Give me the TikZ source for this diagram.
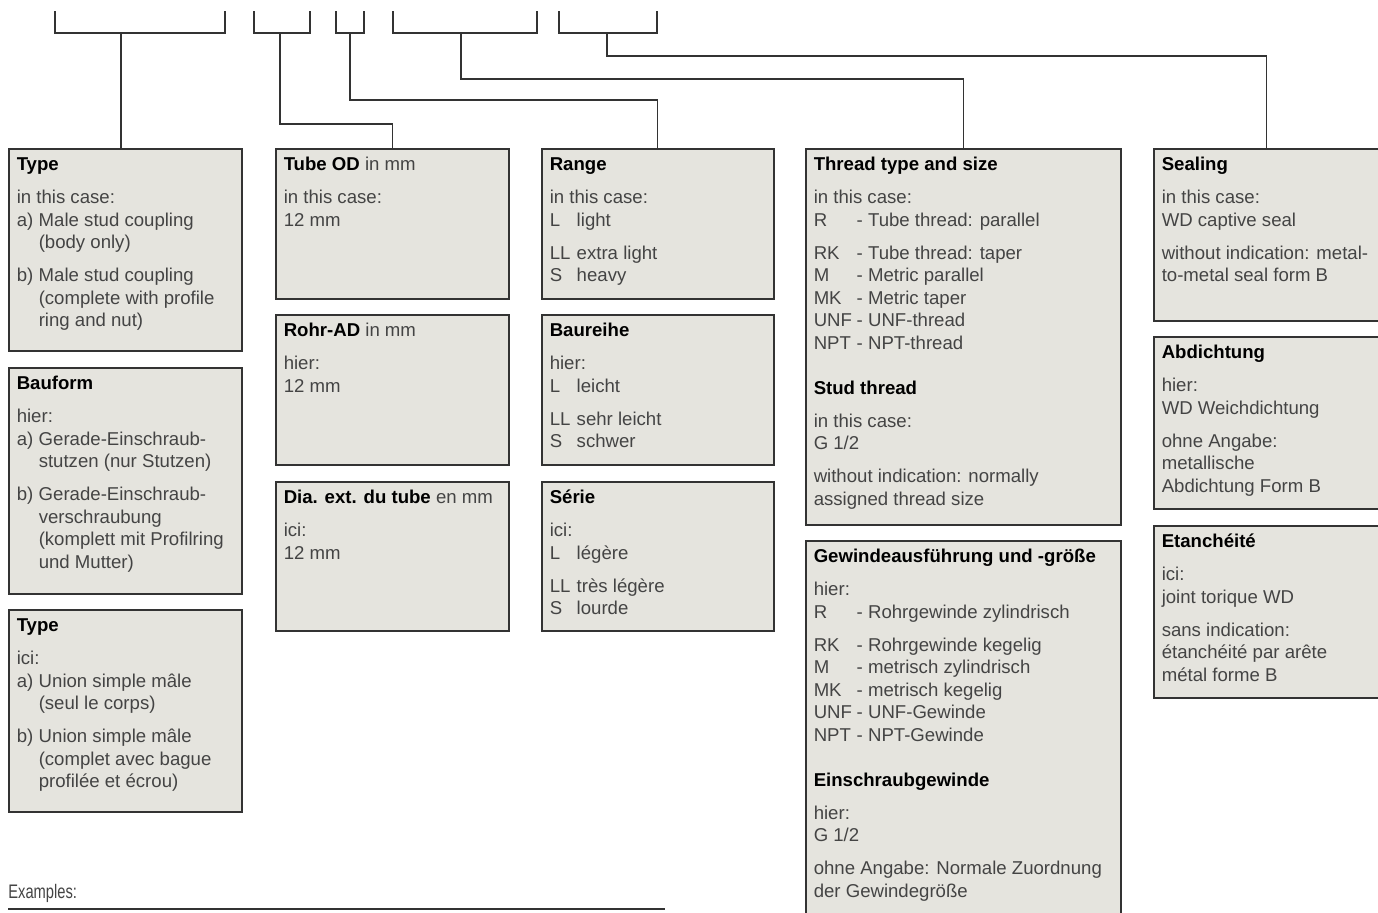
\documentclass[tikz,border=0pt]{standalone}
\usepackage{fontspec}
\setmainfont{Liberation Sans}
\newfontfamily\condfont[FakeStretch=0.75]{Liberation Sans}
\usetikzlibrary{positioning,calc}
\definecolor{boxfill}{HTML}{E5E4DE}
\definecolor{boxline}{HTML}{333333}
\definecolor{bodytext}{HTML}{444444}

% one unit = one pixel of the sheet
\newdimen\pxu \pxu=0.5pt
\newcommand{\infotext}[3]{\parbox[t][\dimexpr#2\pxu-6.25pt\relax][t]{\dimexpr#1\pxu-8pt\relax}{%
  \begin{tabular}[t]{@{}l@{}}#3\end{tabular}}}
\newcommand{\boxhead}[1]{\textbf{\color{black}#1}}
\newcommand{\tabitem}[3]{\makebox[#1][l]{#2}#3}

\tikzset{
	infobox/.style={
			draw=boxline,
			line width=0.75pt,
			fill=boxfill,
			anchor=north west,
			inner xsep=4pt,
			inner ysep=3.125pt,
			text=bodytext,
			font=\fontsize{9.3}{11.25}\selectfont
		},
	bracket/.style={
			draw=boxline,
			line width=0.6pt
		},
	link/.style={
			draw=boxline,
			line width=0.6pt
		}
}

\begin{document}
\begin{tikzpicture}[x=0.5pt, y=-0.5pt]
\useasboundingbox (0,0) rectangle (1378,912);
\clip (0,0) rectangle (1378,912);

% brackets under the order code
\foreach \l/\m/\r [count=\i] in {55/121/225, 254/280/310, 336/350/364, 393/461/537, 559/607/657}{
  \draw[bracket] (\l,11) |- (\r,33) -- (\r,11);
  \coordinate (br\i) at (\m,33);
}

% column 1
\node[infobox] (typeen) at (8,148) {\infotext{233}{202}{%
\boxhead{Type}\\[5.25pt]
in this case:\\
\tabitem{11pt}{a)}{Male stud coupling}\\
\hspace*{11pt}(body only)\\[5.25pt]
\tabitem{11pt}{b)}{Male stud coupling}\\
\hspace*{11pt}(complete with profile\\
\hspace*{11pt}ring and nut)}};
\node[infobox] (bauform) at (8,367) {\infotext{233}{226}{%
\boxhead{Bauform}\\[5.25pt]
hier:\\
\tabitem{11pt}{a)}{Gerade-Einschraub-}\\
\hspace*{11pt}stutzen (nur Stutzen)\\[5.25pt]
\tabitem{11pt}{b)}{Gerade-Einschraub-}\\
\hspace*{11pt}verschraubung\\
\hspace*{11pt}(komplett mit Profilring\\
\hspace*{11pt}und Mutter)}};
\node[infobox] (typefr) at (8,609) {\infotext{233}{202}{%
\boxhead{Type}\\[5.25pt]
ici:\\
\tabitem{11pt}{a)}{Union simple mâle}\\
\hspace*{11pt}(seul le corps)\\[5.25pt]
\tabitem{11pt}{b)}{Union simple mâle}\\
\hspace*{11pt}(complet avec bague\\
\hspace*{11pt}profilée et écrou)}};

% column 2
\node[infobox] (tubeod) at (275,148) {\infotext{233}{150}{%
\boxhead{Tube OD} in mm\\[5.25pt]
in this case:\\
12 mm}};
\node[infobox] (rohrad) at (275,314) {\infotext{233}{150}{%
\boxhead{Rohr-AD} in mm\\[5.25pt]
hier:\\
12 mm}};
\node[infobox] (diaext) at (275,481) {\infotext{233}{149}{%
\boxhead{Dia. ext. du tube} en mm\\[5.25pt]
ici:\\
12 mm}};

% column 3
\node[infobox] (range) at (541,148) {\infotext{232}{150}{%
\boxhead{Range}\\[5.25pt]
in this case:\\
\tabitem{13.5pt}{L}{light}\\[5.25pt]
\tabitem{13.5pt}{LL}{extra light}\\
\tabitem{13.5pt}{S}{heavy}}};
\node[infobox] (baureihe) at (541,314) {\infotext{232}{150}{%
\boxhead{Baureihe}\\[5.25pt]
hier:\\
\tabitem{13.5pt}{L}{leicht}\\[5.25pt]
\tabitem{13.5pt}{LL}{sehr leicht}\\
\tabitem{13.5pt}{S}{schwer}}};
\node[infobox] (serie) at (541,481) {\infotext{232}{149}{%
\boxhead{Série}\\[5.25pt]
ici:\\
\tabitem{13.5pt}{L}{légère}\\[5.25pt]
\tabitem{13.5pt}{LL}{très légère}\\
\tabitem{13.5pt}{S}{lourde}}};

% column 4
\node[infobox] (thread) at (805,148) {\infotext{315}{376}{%
\boxhead{Thread type and size}\\[5.25pt]
in this case:\\
\tabitem{21.5pt}{R}{- Tube thread: parallel}\\[5.25pt]
\tabitem{21.5pt}{RK}{- Tube thread: taper}\\
\tabitem{21.5pt}{M}{- Metric parallel}\\
\tabitem{21.5pt}{MK}{- Metric taper}\\
\tabitem{21.5pt}{UNF}{- UNF-thread}\\
\tabitem{21.5pt}{NPT}{- NPT-thread}\\[11.25pt]
\boxhead{Stud thread}\\[5.25pt]
in this case:\\
G 1/2\\[5.25pt]
without indication: normally\\
assigned thread size}};
\node[infobox] (gewinde) at (805,540) {\infotext{315}{390}{%
\boxhead{Gewindeausführung und -größe}\\[5.25pt]
hier:\\
\tabitem{21.5pt}{R}{- Rohrgewinde zylindrisch}\\[5.25pt]
\tabitem{21.5pt}{RK}{- Rohrgewinde kegelig}\\
\tabitem{21.5pt}{M}{- metrisch zylindrisch}\\
\tabitem{21.5pt}{MK}{- metrisch kegelig}\\
\tabitem{21.5pt}{UNF}{- UNF-Gewinde}\\
\tabitem{21.5pt}{NPT}{- NPT-Gewinde}\\[11.25pt]
\boxhead{Einschraubgewinde}\\[5.25pt]
hier:\\
G 1/2\\[5.25pt]
ohne Angabe: Normale Zuordnung\\
der Gewindegröße}};

% column 5
\node[infobox] (sealing) at (1153,148) {\infotext{226}{172}{%
\boxhead{Sealing}\\[5.25pt]
in this case:\\
WD captive seal\\[5.25pt]
without indication: metal-\\
to-metal seal form B}};
\node[infobox] (abdichtung) at (1153,336) {\infotext{226}{172}{%
\boxhead{Abdichtung}\\[5.25pt]
hier:\\
WD Weichdichtung\\[5.25pt]
ohne Angabe:\\
metallische\\
Abdichtung Form B}};
\node[infobox] (etancheite) at (1153,525) {\infotext{226}{172}{%
\boxhead{Etanchéité}\\[5.25pt]
ici:\\
joint torique WD\\[5.25pt]
sans indication:\\
étanchéité par arête\\
métal forme B}};

% leaders from the code to the boxes
\draw[link] (br1) -- (br1 |- typeen.north);
\draw[link] (br2) -- ++(0,91) -| (tubeod.north);
\draw[link] (br3) -- ++(0,67) -| (range.north);
\draw[link] (br4) -- ++(0,46) -| (thread.north);
\draw[link] (br5) -- ++(0,23) -| (sealing.north);

% examples
\node[anchor=base west, inner sep=0pt, text=bodytext,
  font=\condfont\fontsize{9.8}{11}\selectfont] (examples) at (8,898) {Examples:};
\coordinate (rulestart) at (8,909);
\coordinate (ruleend) at (665,909);
\draw[boxline, line width=0.8pt] (rulestart) -- (ruleend);
\end{tikzpicture}
\end{document}
